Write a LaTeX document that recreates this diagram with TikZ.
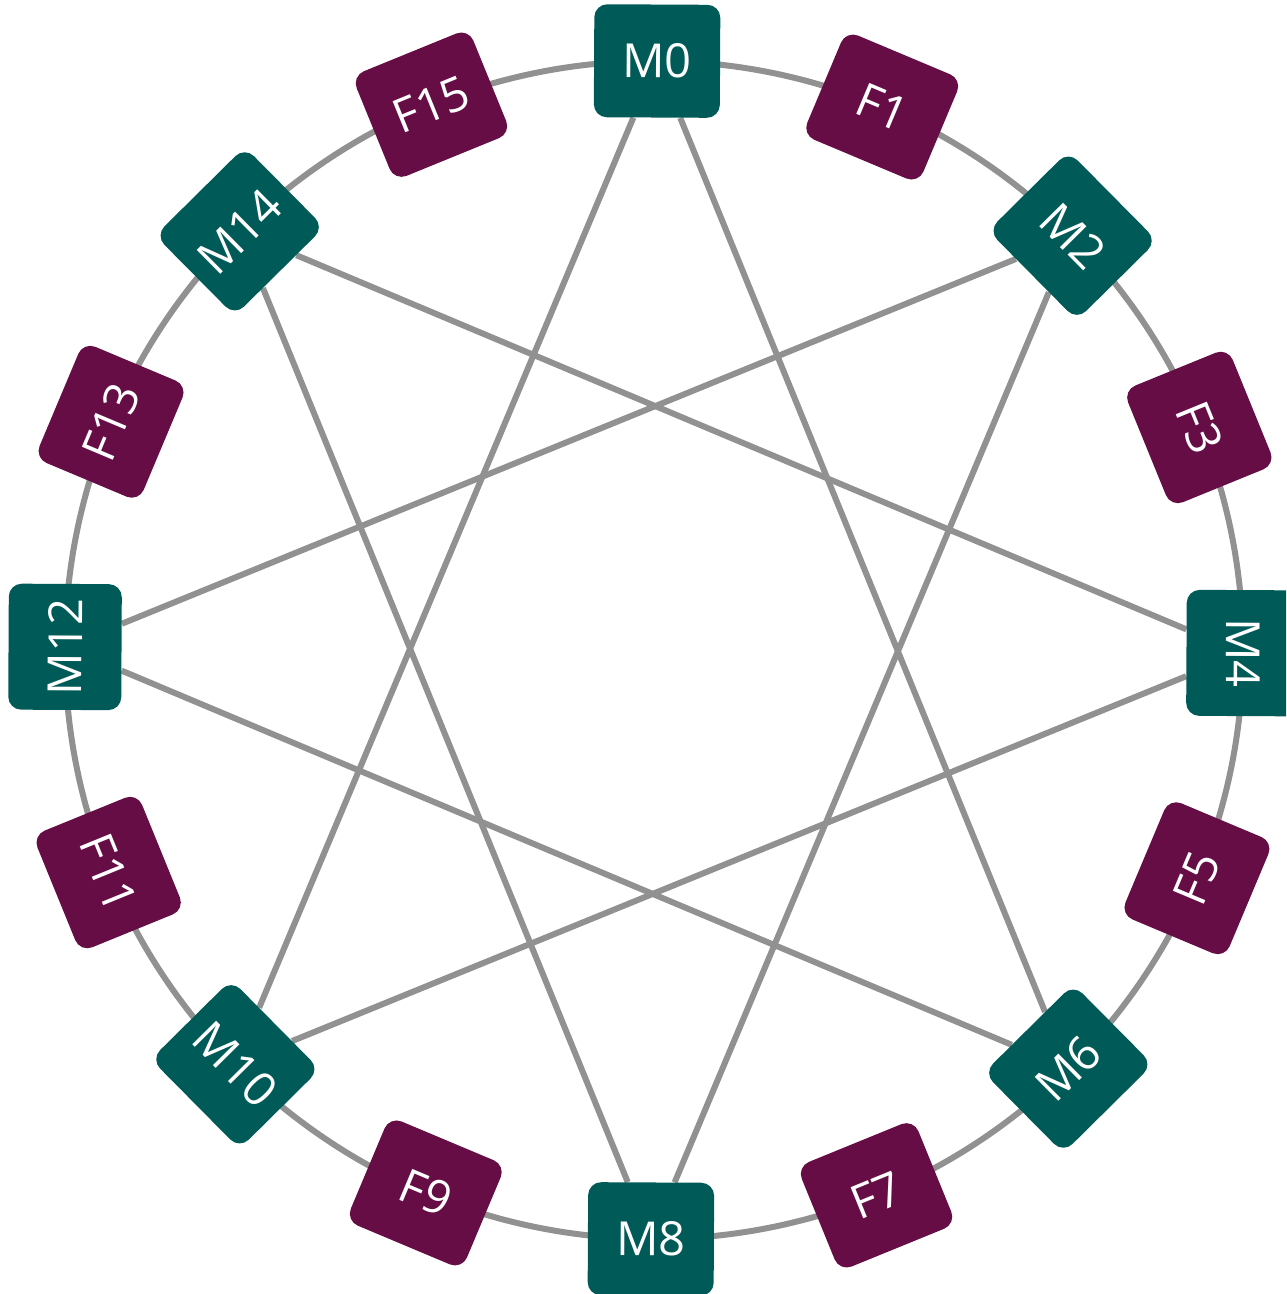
\documentclass[tikz,border=0pt]{standalone}
\usepackage{fontspec}
\setmainfont{Open Sans}
\usetikzlibrary{backgrounds}
\definecolor{mteal}{RGB}{0,91,88}
\definecolor{fpurple}{RGB}{103,13,70}
\definecolor{ringgray}{RGB}{145,145,145}
\newcommand\ringnode[5]{% style, name, angle, rotation, text
  \node[#1, rotate=#4-0.3] (#2) at ({#3-0.3}:589) {#5};}
\begin{document}
\begin{tikzpicture}[x=1pt,y=1pt,
  box/.style={rounded corners=13pt, minimum width=126pt, minimum height=113pt,
    inner sep=0pt, text=white, font=\fontsize{47}{50}\selectfont},
  mbox/.style={box, fill=mteal},
  fbox/.style={box, fill=fpurple},
  ring/.style={draw=ringgray, line width=6pt},
  link/.style={draw=ringgray, line width=6pt}]
\clip (-654,-644) rectangle (632,650);
\ringnode{mbox}{m0}{90}{0}{M0}
\ringnode{fbox}{f1}{67.5}{-22.5}{F1}
\ringnode{mbox}{m2}{45}{-45}{M2}
\ringnode{fbox}{f3}{22.5}{-67.5}{F3}
\ringnode{mbox}{m4}{0}{-90}{M4}
\ringnode{fbox}{f5}{-22.5}{67.5}{F5}
\ringnode{mbox}{m6}{-45}{45}{M6}
\ringnode{fbox}{f7}{-67.5}{22.5}{F7}
\ringnode{mbox}{m8}{-90}{0}{M8}
\ringnode{fbox}{f9}{-112.5}{-22.5}{F9}
\ringnode{mbox}{m10}{-135}{-45}{M10}
\ringnode{fbox}{f11}{-157.5}{-67.5}{F11}
\ringnode{mbox}{m12}{180}{90}{M12}
\ringnode{fbox}{f13}{157.5}{67.5}{F13}
\ringnode{mbox}{m14}{135}{45}{M14}
\ringnode{fbox}{f15}{112.5}{22.5}{F15}
\begin{scope}[on background layer]
  \coordinate (ctr) at (0,0);
  \draw[ring] (ctr) circle[radius=589];
  \draw[link] (m0) -- (m6);
  \draw[link] (m2) -- (m8);
  \draw[link] (m4) -- (m10);
  \draw[link] (m6) -- (m12);
  \draw[link] (m8) -- (m14);
  \draw[link] (m10) -- (m0);
  \draw[link] (m12) -- (m2);
  \draw[link] (m14) -- (m4);
\end{scope}
\end{tikzpicture}
\end{document}
